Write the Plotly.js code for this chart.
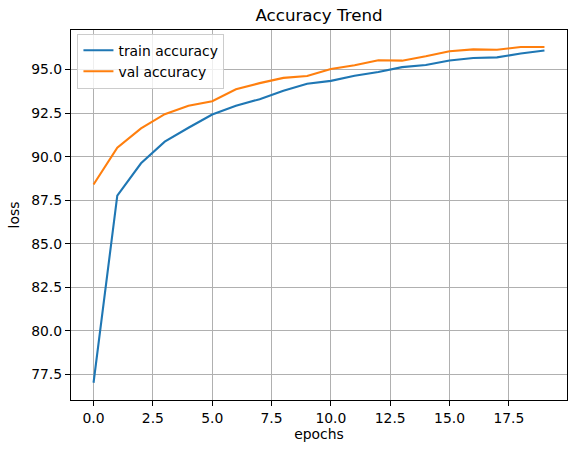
<!DOCTYPE html>
<html>
<head>
<meta charset="utf-8">
<script src="https://cdn.plot.ly/plotly-3.0.1.min.js"></script>
<style>html,body{margin:0;padding:0;background:#fff;}#chart{width:576px;height:453px;}</style>
</head>
<body>
<div id="chart"></div>
<script>
const epochs = [0,1,2,3,4,5,6,7,8,9,10,11,12,13,14,15,16,17,18,19];
const trainAccuracy = [77.02,87.76,89.62,90.86,91.66,92.42,92.92,93.30,93.78,94.18,94.35,94.64,94.86,95.14,95.26,95.52,95.66,95.70,95.92,96.09];
const valAccuracy = [88.40,90.51,91.62,92.44,92.92,93.18,93.87,94.22,94.52,94.63,95.03,95.25,95.53,95.51,95.76,96.05,96.16,96.14,96.29,96.29];
const xTicks = [0,2.5,5,7.5,10,12.5,15,17.5];
const yTicks = [77.5,80,82.5,85,87.5,90,92.5,95];

const font = {family: 'DejaVu Sans, sans-serif', size: 13.9, color: '#000'};
const traces = [
  {x: epochs, y: trainAccuracy, name: 'train accuracy', mode: 'lines', line: {color: '#1f77b4', width: 2.1}},
  {x: epochs, y: valAccuracy, name: 'val accuracy', mode: 'lines', line: {color: '#ff7f0e', width: 2.1}}
];
const axisCommon = {
  showline: true, linecolor: '#000', linewidth: 1.1, mirror: true,
  showgrid: true, gridcolor: '#b0b0b0', gridwidth: 1.1,
  ticks: 'outside', ticklen: 5, tickwidth: 1.1, tickcolor: '#000',
  zeroline: false, tickfont: font, tickformat: '.1f'
};
const layout = {
  width: 576, height: 453,
  margin: {l: 71, r: 9, t: 30, b: 53},
  paper_bgcolor: '#fff', plot_bgcolor: '#fff',
  font: font,
  title: {text: 'Accuracy Trend', font: {family: 'DejaVu Sans, sans-serif', size: 16.7, color: '#000'},
          xref: 'paper', x: 0.5, xanchor: 'center', yref: 'container', y: 1 - 15/453, yanchor: 'middle'},
  xaxis: Object.assign({}, axisCommon, {range: [-0.95, 19.95], tickvals: xTicks,
          title: {text: 'epochs', font: font, standoff: 4}}),
  yaxis: Object.assign({}, axisCommon, {range: [76.03, 97.27], tickvals: yTicks,
          title: {text: 'loss', font: font, standoff: 8}}),
  showlegend: true,
  legend: {x: 0.013, y: 0.99, xanchor: 'left', yanchor: 'top',
           bgcolor: 'rgba(255,255,255,0.8)', bordercolor: '#cccccc', borderwidth: 1,
           font: font, tracegroupgap: 0}
};
Plotly.newPlot('chart', traces, layout, {displayModeBar: false, staticPlot: true});
</script>
</body>
</html>
